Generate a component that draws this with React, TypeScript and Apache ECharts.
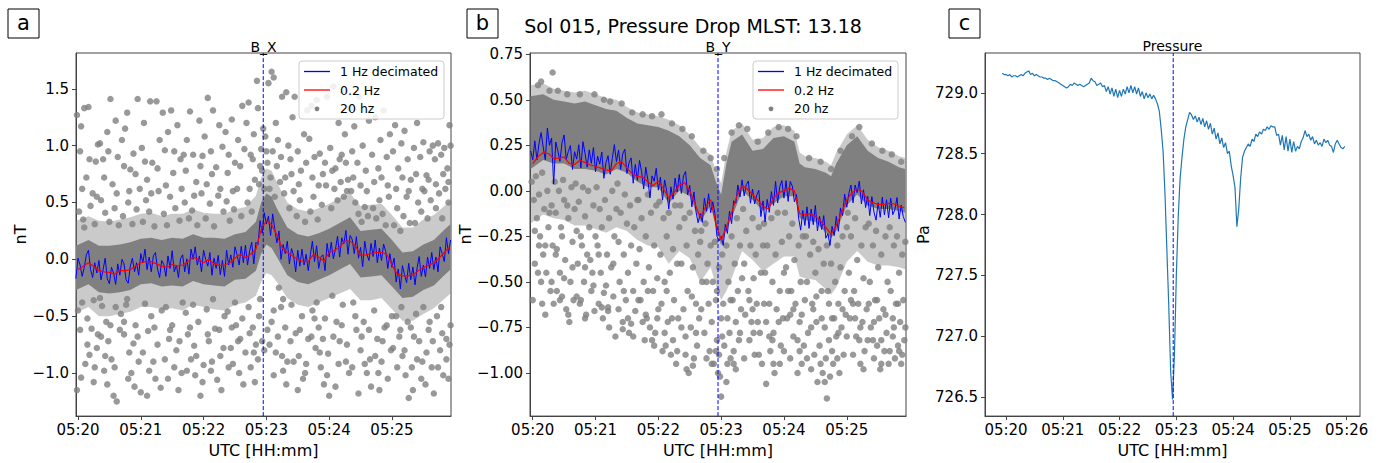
import React, { useEffect, useRef } from "react";
import * as echarts from "echarts";

const FONT = "DejaVu Sans";

// ---------- ticks / labels ----------
const X_TICKS_AB = [0, 60, 120, 180, 240, 300]; // seconds after 05:20
const X_TICKS_C = [0, 60, 120, 180, 240, 300, 360];
const Y_TICKS_A = [-1.0, -0.5, 0.0, 0.5, 1.0, 1.5];
const Y_TICKS_B = [-1.0, -0.75, -0.5, -0.25, 0.0, 0.25, 0.5, 0.75];
const Y_TICKS_C = [726.5, 727.0, 727.5, 728.0, 728.5, 729.0];
const Y_RANGE_A = [-1.379, 1.815];
const Y_RANGE_B = [-1.237, 0.757];
const Y_RANGE_C = [726.344, 729.327];
const EVENT_T_AB = 177; // dashed line (s after 05:20)
const EVENT_T_C = 176.7;

const SUPTITLE = "Sol 015, Pressure Drop MLST: 13.18";
const PANEL_TITLES = ["B_X", "B_Y", "Pressure"];
const LEGEND_NAMES = ["1 Hz decimated", "0.2 Hz", "20 hz"];

// ---------- panel a (B_X) ----------
const RED_A_T0 = 0, RED_A_DT = 5;
const RED_A = [
  -0.09, -0.06, -0.03, -0.06, -0.10, -0.11, -0.115, -0.13, -0.10, -0.10,
  -0.09, -0.06, -0.03, -0.02, -0.02, -0.04, -0.06, -0.07, -0.045, -0.06,
  -0.05, -0.02, 0.02, 0.00, -0.03, 0.00, -0.04, -0.055, -0.05, -0.03,
  0.01, 0.045, 0.015, 0.045, 0.09, 0.26, 0.34, 0.305, 0.215, 0.10,
  0.06, 0.03, 0.00, -0.02, -0.02, 0.044, 0.02, -0.014, 0.06, 0.078,
  0.11, 0.16, 0.16, 0.12, 0.035, 0.04, 0.05, 0.06, 0.06, 0.045,
  -0.05, -0.13, -0.145, -0.145, -0.137, -0.10, -0.07, -0.055, -0.03, 0.01,
  0.06, 0.11,
];
const BLUE_A_T0 = -2, BLUE_A_DT = 2;
const BLUE_A = [
  -0.17, 0.01, -0.05, -0.15, -0.07, 0.04, 0.08, -0.09, -0.16, -0.03,
  -0.12, -0.01, -0.18, -0.09, 0.01, -0.17, -0.215, -0.07, -0.12, -0.22,
  -0.04, -0.14, 0.00, -0.04, -0.18, -0.21, -0.06, 0.01, -0.11, -0.03,
  -0.14, 0.05, -0.03, 0.09, -0.09, 0.02, -0.11, 0.03, 0.06, -0.085,
  -0.16, -0.01, -0.045, -0.15, 0.03, -0.08, 0.075, -0.11, -0.05, -0.16,
  0.005, 0.04, -0.11, 0.005, -0.13, 0.09, 0.00, 0.11, -0.05, 0.03,
  -0.11, 0.08, 0.00, -0.06, 0.06, -0.14, 0.01, -0.08, 0.035, -0.135,
  -0.01, -0.15, 0.08, -0.05, 0.04, -0.07, 0.11, 0.04, -0.05, 0.115,
  -0.03, 0.125, -0.05, 0.075, 0.15, -0.04, 0.15, 0.13, 0.34, 0.23,
  0.41, 0.31, 0.38, 0.21, 0.40, 0.27, 0.145, 0.25, 0.00, 0.13,
  0.05, 0.16, -0.04, 0.095, 0.035, -0.11, 0.08, -0.06, 0.09, -0.05,
  0.045, -0.10, 0.04, 0.16, -0.02, 0.12, -0.08, 0.02, 0.04, -0.10,
  0.14, 0.02, 0.15, 0.005, 0.09, 0.205, 0.02, 0.19, 0.135, 0.255,
  0.045, 0.21, 0.175, 0.05, 0.20, 0.01, 0.105, -0.065, 0.16, 0.045,
  -0.01, 0.14, 0.025, 0.17, -0.03, 0.10, -0.01, 0.135, 0.07, -0.08,
  0.05, -0.07, 0.01, -0.20, -0.085, -0.26, -0.055, -0.135, -0.205, -0.035,
  -0.18, -0.067, -0.225, -0.075, 0.025, -0.15, -0.05, -0.155, 0.02, -0.08,
  0.06, -0.09, 0.02, -0.11, 0.11, 0.05, -0.02, 0.19, 0.05, 0.17,
];
const BAND_A_T = [
  -2, 10, 20, 30, 40, 50, 60, 70, 80, 90,
  100, 110, 120, 130, 140, 150, 160, 170, 175, 180,
  185, 190, 200, 210, 220, 230, 240, 250, 260, 270,
  280, 290, 300, 310, 320, 330, 340, 350, 356,
];
const BAND_A_LO = [
  -0.27, -0.22, -0.29, -0.30, -0.29, -0.27, -0.22, -0.21, -0.24, -0.23,
  -0.24, -0.19, -0.22, -0.23, -0.24, -0.18, -0.17, -0.10, 0.05, 0.13,
  0.10, 0.02, -0.14, -0.20, -0.22, -0.18, -0.14, -0.09, -0.04, -0.16,
  -0.15, -0.14, -0.24, -0.34, -0.33, -0.27, -0.23, -0.14, -0.09,
];
const BAND_A_HI = [
  0.12, 0.17, 0.12, 0.12, 0.13, 0.15, 0.18, 0.19, 0.17, 0.19,
  0.18, 0.22, 0.19, 0.19, 0.18, 0.22, 0.24, 0.33, 0.50, 0.58,
  0.55, 0.45, 0.28, 0.22, 0.20, 0.23, 0.27, 0.32, 0.37, 0.25,
  0.26, 0.27, 0.17, 0.06, 0.07, 0.13, 0.17, 0.26, 0.31,
];
const FRINGE_A_LO = [
  -0.47, -0.42, -0.50, -0.50, -0.48, -0.46, -0.42, -0.42, -0.44, -0.43,
  -0.45, -0.40, -0.42, -0.44, -0.45, -0.40, -0.38, -0.32, -0.20, -0.12,
  -0.14, -0.20, -0.34, -0.40, -0.42, -0.38, -0.34, -0.30, -0.26, -0.36,
  -0.36, -0.34, -0.44, -0.54, -0.54, -0.48, -0.43, -0.35, -0.30,
];
const FRINGE_A_HI = [
  0.34, 0.38, 0.34, 0.33, 0.35, 0.37, 0.40, 0.41, 0.38, 0.40,
  0.40, 0.44, 0.41, 0.40, 0.40, 0.44, 0.46, 0.56, 0.72, 0.80,
  0.78, 0.68, 0.50, 0.44, 0.42, 0.45, 0.49, 0.54, 0.58, 0.47,
  0.48, 0.49, 0.39, 0.28, 0.28, 0.35, 0.39, 0.47, 0.52,
];
const DOTS_A = [
  [-1,1.27],[3,1.17],[6,1.33],[10,1.34],[19,1.01],[2,0.95],[8,0.72],[14,0.58],[17,0.86],[1,0.42],[5,0.35],[12,0.47],[16,0.31],[0,-0.45],[4,-0.38],[9,-0.52],[13,-0.61],[18,-0.78],[7,-0.92],[11,-0.84],[15,-1.08],[-1,-1.15],[3,-1.04],[19,-0.66],[6,0.28],[15,-0.36],
  [21,1.02],[24,0.88],[28,1.12],[31,1.41],[33,0.66],[36,1.22],[38,0.9],[22,0.52],[26,0.41],[30,0.33],[35,0.45],[39,0.3],[23,-0.41],[27,-0.55],[29,-0.72],[32,-0.88],[34,-1.2],[37,-1.25],[25,-0.98],[40,-0.62],[21,-0.34],[36,-0.42],[28,-1.1],
  [42,1.05],[45,1.15],[47,1.29],[50,0.79],[53,0.93],[57,1.41],[59,0.62],[43,0.38],[48,0.5],[52,0.31],[56,0.44],[41,-0.48],[44,-0.66],[46,-0.4],[49,-0.82],[51,-1.0],[54,-1.12],[58,-0.9],[55,-0.58],[60,-1.17],[47,-0.35],[53,-0.74],
  [61,0.98],[63,1.2],[66,0.7],[69,1.39],[71,0.85],[75,1.39],[78,1.05],[62,0.33],[65,0.52],[68,0.42],[73,0.29],[77,0.6],[64,-0.39],[67,-0.63],[70,-0.5],[72,-0.9],[74,-1.05],[76,-0.75],[79,-1.13],[66,-1.2],[80,-0.45],
  [81,1.29],[83,0.96],[86,1.12],[89,1.31],[91,0.76],[95,1.18],[98,0.88],[82,0.4],[85,0.3],[88,0.55],[93,0.45],[97,0.34],[84,-0.42],[87,-0.7],[90,-0.58],[92,-0.95],[94,-0.8],[96,-1.15],[99,-1.0],[100,-0.38],[86,-1.05],
  [101,0.92],[104,1.05],[107,1.3],[110,0.92],[113,0.68],[116,1.22],[119,0.91],[102,0.5],[106,0.36],[109,0.43],[114,0.3],[118,0.58],[103,-0.47],[105,-0.66],[108,-0.88],[111,-0.76],[112,-1.02],[115,-0.55],[117,-1.2],[120,-0.93],[110,-0.4],
  [121,1.08],[124,1.42],[127,0.95],[129,1.31],[132,0.81],[135,1.18],[138,0.99],[122,0.36],[126,0.49],[130,0.29],[134,0.56],[139,0.42],[123,-0.44],[125,-0.72],[128,-0.9],[131,-0.61],[133,-1.06],[136,-0.85],[137,-1.15],[140,-0.5],[129,-0.35],
  [141,1.12],[144,0.92],[147,1.23],[150,0.85],[153,1.05],[157,1.35],[159,0.97],[142,0.51],[145,0.34],[149,0.44],[152,0.62],[156,0.38],[143,-0.46],[146,-0.78],[148,-0.92],[151,-0.58],[154,-1.0],[155,-0.7],[158,-1.1],[160,-0.82],[150,-0.38],
  [161,1.2],[163,1.38],[165,0.92],[168,1.1],[171,1.57],[172,1.33],[175,0.97],[177,1.15],[179,1.08],[162,0.5],[164,0.62],[166,0.42],[169,0.7],[173,0.66],[176,0.78],[178,0.62],[163,-0.42],[167,-0.6],[170,-0.75],[174,-0.35],[176,-0.72],[178,-0.8],[165,-0.95],[169,-1.08],[172,-0.88],
  [182,1.55],[185,1.65],[187,1.6],[189,1.2],[191,1.05],[195,1.43],[199,1.47],[181,0.85],[184,0.72],[186,0.95],[190,0.82],[193,0.68],[197,0.58],[183,0.62],[188,0.55],[192,-0.25],[194,-0.42],[196,-0.35],[181,-0.62],[185,-0.55],[189,-0.82],[198,-0.6],[200,-0.9],[187,-1.02],[196,-0.98],
  [201,1.0],[203,0.88],[205,1.25],[207,1.43],[210,0.95],[213,0.78],[216,1.1],[219,1.31],[202,0.45],[206,0.6],[209,0.38],[212,0.52],[217,0.33],[204,-0.4],[208,-0.65],[211,-0.85],[214,-0.5],[215,-1.05],[218,-0.92],[220,-0.7],[210,-1.15],
  [221,1.06],[223,1.35],[226,0.9],[228,1.4],[231,0.93],[234,0.75],[238,1.43],[222,0.42],[225,0.55],[229,0.35],[233,0.48],[237,0.65],[224,-0.45],[227,-0.78],[230,-0.6],[232,-0.95],[235,-1.1],[236,-0.52],[239,-0.83],[240,-1.2],[228,-0.38],
  [241,0.98],[244,1.52],[246,0.8],[249,1.2],[252,0.92],[255,1.1],[258,0.7],[260,1.33],[242,0.45],[245,0.62],[248,0.52],[251,0.68],[254,0.55],[257,0.6],[243,-0.32],[247,-0.55],[250,-0.72],[253,-0.4],[256,-0.9],[259,-1.0],[246,-1.12],
  [262,0.95],[264,1.17],[267,0.85],[269,1.43],[272,1.0],[275,0.78],[278,1.22],[261,0.6],[265,0.5],[268,0.4],[271,0.33],[274,0.46],[277,0.38],[263,-0.38],[266,-0.62],[270,-0.8],[273,-0.55],[276,-1.0],[279,-0.88],[280,-1.12],[268,-1.18],
  [281,0.92],[284,1.25],[287,0.8],[289,1.05],[292,1.31],[295,0.9],[298,1.1],[282,0.45],[285,0.36],[288,0.52],[291,0.4],[294,0.3],[297,0.55],[283,-0.45],[286,-0.7],[290,-0.9],[293,-0.6],[296,-1.05],[299,-0.8],[300,-0.5],[288,-1.15],
  [301,0.95],[303,1.18],[306,0.8],[309,1.02],[312,1.13],[315,0.88],[318,0.7],[302,0.3],[305,0.45],[308,0.25],[311,0.38],[314,0.55],[317,0.32],[304,-0.5],[307,-0.68],[310,-0.85],[313,-1.02],[316,-1.22],[319,-0.95],[320,-1.15],[309,-0.42],[318,-0.6],
  [321,0.98],[324,1.2],[327,0.9],[330,1.03],[333,0.74],[336,0.95],[339,1.0],[322,0.32],[325,0.5],[328,0.42],[331,0.6],[334,0.36],[337,0.52],[323,-0.48],[326,-0.72],[329,-0.9],[332,-1.1],[335,-0.62],[338,-0.95],[340,-1.18],[330,-0.42],
  [341,0.88],[344,1.02],[347,0.92],[350,0.98],[353,0.8],[355,1.18],[356,1.0],[342,0.45],[345,0.58],[348,0.36],[351,0.62],[354,0.5],[343,-0.5],[346,-0.8],[349,-1.02],[352,-0.7],[354,-1.05],[356,-0.58],[347,-0.42],
];
const DOTS_A_EXTRA = [
  [2,-0.62],[9,-0.75],[16,-0.95],[22,-0.68],[26,-0.85],[31,-0.58],[35,-0.95],[44,-0.55],[48,-1.05],[57,-0.68],[62,-0.82],[68,-0.98],[73,-0.6],[83,-0.88],[88,-0.62],[97,-0.72],[104,-0.98],[107,-0.6],[113,-0.85],[119,-1.08],[124,-0.66],[127,-0.98],[135,-0.62],[139,-0.78],[144,-0.95],[147,-0.6],[153,-0.72],[157,-0.52],[164,-0.65],[168,-0.82],[173,-0.5],[183,-0.75],[187,-0.45],[191,-0.68],[195,-0.85],[199,-1.1],[203,-0.72],[206,-0.9],[212,-0.62],[217,-1.0],[223,-0.68],[226,-0.52],[231,-0.82],[234,-0.7],[238,-1.02],[244,-0.68],[249,-0.92],[252,-0.58],[257,-0.75],[262,-0.95],[265,-0.5],[271,-0.68],[274,-0.92],[278,-0.62],[284,-0.85],[287,-1.0],[291,-0.72],[295,-0.58],[301,-0.78],[305,-0.95],[308,-0.62],[312,-0.8],[315,-0.55],[321,-0.68],[324,-0.88],[328,-1.05],[333,-0.82],[336,-0.55],[339,-0.72],[344,-0.95],[348,-0.65],[352,-0.88],[355,-0.75],
  [4,0.62],[11,0.88],[18,0.55],[25,0.72],[29,0.95],[37,0.58],[44,0.82],[49,0.6],[55,0.75],[64,0.86],[70,0.58],[76,0.8],[84,0.65],[92,0.95],[99,0.62],[103,0.78],[111,0.56],[117,0.82],[123,0.66],[128,0.75],[136,0.62],[143,0.76],[148,0.6],[155,0.82],[167,0.88],[174,0.82],[180,0.95],[194,0.9],[198,0.72],[204,0.75],[211,0.66],[218,0.85],[224,0.72],[230,0.65],[236,0.85],[243,0.78],[250,0.88],[256,0.85],[263,0.72],[270,0.65],[276,0.6],[283,0.68],[290,0.72],[296,0.65],[304,0.62],[310,0.72],[316,0.6],[323,0.75],[329,0.62],[335,0.7],[342,0.66],[349,0.75],[354,0.68],
];

// ---------- panel b (B_Y) ----------
const RED_B_T0 = 0, RED_B_DT = 5;
const RED_B = [
  0.15, 0.187, 0.21, 0.205, 0.177, 0.18, 0.187, 0.15, 0.145, 0.168,
  0.155, 0.142, 0.135, 0.125, 0.115, 0.11, 0.15, 0.16, 0.125, 0.095,
  0.078, 0.075, 0.05, 0.028, 0.054, 0.01, -0.04, -0.01, 0.03, 0.045,
  0.0, -0.07, -0.145, -0.09, -0.05, -0.18, -0.27, -0.2, -0.12, -0.03,
  0.03, 0.01, -0.02, -0.05, -0.085, -0.10, -0.04, -0.01, 0.0, 0.015,
  0.0, -0.125, -0.13, -0.125, -0.14, -0.165, -0.2, -0.238, -0.19, -0.12,
  -0.05, -0.01, 0.01, -0.005, -0.05, -0.065, -0.075, -0.075, -0.068, -0.072,
  -0.085, -0.093,
];
const BLUE_B_T0 = -2, BLUE_B_DT = 2;
const BLUE_B = [
  0.22, 0.17, 0.275, 0.17, 0.26, 0.32, 0.24, 0.17, 0.345, 0.25,
  0.29, 0.037, 0.268, 0.22, 0.162, 0.265, 0.307, 0.172, 0.217, 0.249,
  0.117, 0.215, 0.174, 0.253, 0.126, 0.27, 0.205, 0.13, 0.225, 0.151,
  0.238, 0.105, 0.191, 0.147, 0.213, 0.069, 0.155, 0.193, 0.091, 0.178,
  0.254, 0.16, 0.224, 0.118, 0.203, 0.229, 0.095, 0.153, 0.181, 0.042,
  0.145, 0.058, 0.167, 0.106, 0.01, 0.13, 0.06, -0.039, 0.082, 0.053,
  0.124, 0.004, 0.076, -0.051, 0.06, 0.0, -0.10, 0.022, -0.046, 0.07,
  -0.006, 0.09, -0.014, 0.082, 0.106, -0.022, 0.03, -0.088, -0.006, -0.115,
  -0.175, -0.125, -0.173, -0.04, -0.112, -0.016, -0.12, -0.06, -0.124, -0.25,
  -0.275, -0.25, -0.30, -0.184, -0.234, -0.112, -0.18, -0.054, -0.068, 0.032,
  -0.034, 0.06, -0.028, 0.034, 0.054, -0.068, 0.01, -0.072, -0.024, 0.003,
  -0.141, -0.055, -0.171, -0.047, -0.118, -0.004, -0.08, 0.052, -0.066, 0.022,
  0.056, -0.04, 0.056, -0.058, 0.052, 0.026, -0.06, -0.02, -0.15, -0.216,
  -0.108, -0.19, -0.088, -0.206, -0.10, -0.186, -0.08, -0.22, -0.14, -0.212,
  -0.136, -0.26, -0.235, -0.30, -0.195, -0.246, -0.14, -0.222, -0.094, -0.136,
  -0.018, -0.09, -0.014, 0.032, -0.066, 0.032, -0.01, 0.054, -0.072, 0.006,
  -0.092, -0.03, -0.136, -0.032, -0.117, -0.161, -0.065, -0.145, -0.035, -0.132,
  -0.049, -0.148, -0.04, -0.131, -0.103, -0.037, -0.155, -0.078, -0.141, -0.173,
];
const BAND_B_T = [
  -2, 10, 20, 30, 40, 50, 60, 70, 80, 90,
  100, 110, 120, 130, 140, 150, 160, 170, 175,
  180, 185, 190, 200, 210, 220, 230, 240, 250, 255,
  260, 270, 280, 285, 290, 300, 310, 320, 330, 340,
  350, 356,
];
const BAND_B_LO = [
  0.12, 0.17, 0.15, 0.15, 0.12, 0.12, 0.11, 0.09, 0.12, 0.10,
  0.05, 0.02, 0.02, -0.07, 0.0, -0.03, -0.17, -0.08, -0.2,
  -0.30, -0.22, -0.15, 0.0, -0.05, -0.11, -0.07, -0.03, -0.03, -0.15,
  -0.16, -0.17, -0.23, -0.26, -0.22, -0.08, -0.02, -0.08, -0.10, -0.10,
  -0.11, -0.12,
];
const BAND_B_HI = [
  0.52, 0.53, 0.50, 0.49, 0.48, 0.49, 0.47, 0.45, 0.44, 0.40,
  0.37, 0.36, 0.35, 0.33, 0.30, 0.25, 0.18, 0.14, 0.05,
  -0.02, 0.15, 0.27, 0.31, 0.22, 0.23, 0.29, 0.30, 0.27, 0.15,
  0.13, 0.12, 0.10, 0.08, 0.15, 0.25, 0.30, 0.22, 0.18, 0.16,
  0.13, 0.12,
];
const FRINGE_B_LO = [
  -0.18, -0.13, -0.15, -0.16, -0.19, -0.19, -0.21, -0.23, -0.20, -0.22,
  -0.27, -0.30, -0.31, -0.40, -0.33, -0.37, -0.50, -0.42, -0.52,
  -0.60, -0.55, -0.48, -0.33, -0.38, -0.44, -0.40, -0.36, -0.36, -0.47,
  -0.48, -0.49, -0.54, -0.57, -0.53, -0.39, -0.33, -0.39, -0.41, -0.41,
  -0.42, -0.43,
];
const FRINGE_B_HI = [
  0.58, 0.59, 0.56, 0.55, 0.54, 0.55, 0.53, 0.51, 0.50, 0.46,
  0.43, 0.42, 0.41, 0.39, 0.36, 0.31, 0.24, 0.20, 0.11,
  0.04, 0.21, 0.33, 0.37, 0.28, 0.29, 0.35, 0.36, 0.33, 0.21,
  0.19, 0.18, 0.16, 0.14, 0.21, 0.31, 0.36, 0.28, 0.24, 0.22,
  0.19, 0.18,
];
const DOTS_B = [
  [5,0.58],[19,0.65],[8,0.6],[16,0.55],[-1,0.05],[1,-0.05],[3,0.08],[4,-0.15],[6,-0.02],[7,-0.25],[9,0.1],[10,-0.35],[11,-0.1],[13,-0.45],[14,0.0],[15,-0.2],[17,-0.55],[18,-0.08],[19,-0.3],[20,-0.62],[2,-0.4],[0,-0.6],[8,-0.5],[12,-0.68],[16,-0.12],[6,-0.3],
  [24,0.55],[33,0.53],[21,0.05],[22,-0.12],[23,-0.32],[25,0.0],[26,-0.45],[27,-0.2],[28,-0.58],[29,0.06],[30,-0.05],[31,-0.38],[32,-0.65],[34,-0.15],[35,-0.72],[36,-0.5],[37,0.02],[38,-0.28],[39,-0.6],[40,-0.1],[23,-0.55],[28,-0.25],[33,-0.08],
  [45,0.53],[59,0.53],[41,0.04],[42,-0.22],[43,-0.4],[44,-0.06],[46,-0.6],[47,-0.3],[48,0.02],[49,-0.5],[50,-0.14],[51,-0.68],[52,-0.35],[53,0.0],[54,-0.2],[56,-0.55],[57,-0.45],[58,-0.08],[59,-0.66],[60,-0.25],[45,-0.62],[50,-0.42],
  [68,0.5],[74,0.49],[61,0.02],[62,-0.3],[63,-0.62],[64,-0.1],[65,-0.45],[66,-0.2],[67,-0.7],[69,-0.05],[70,-0.52],[71,-0.35],[72,-0.64],[73,-0.15],[75,-0.42],[76,0.0],[77,-0.58],[78,-0.25],[79,-0.8],[80,-0.1],[66,-0.64],[72,-0.66],
  [85,0.48],[95,0.43],[81,0.04],[82,-0.28],[83,-0.5],[84,-0.12],[86,-0.72],[87,-0.35],[88,-0.02],[89,-0.6],[90,-0.18],[91,-0.45],[92,-0.78],[93,-0.08],[94,-0.3],[96,-0.55],[97,-0.2],[98,-0.66],[99,-0.4],[100,-0.05],[86,-0.76],[94,-0.73],
  [105,0.42],[114,0.41],[101,-0.05],[102,-0.32],[103,-0.6],[104,-0.15],[106,-0.5],[107,-0.82],[108,-0.25],[109,-0.7],[110,-0.02],[111,-0.42],[112,-0.75],[113,-0.12],[115,-0.55],[116,-0.3],[117,-0.78],[118,-0.08],[119,-0.48],[120,-0.65],[108,-0.68],[116,-0.85],
  [123,0.42],[133,0.37],[121,-0.06],[122,-0.35],[123,-0.62],[125,-0.15],[126,-0.5],[127,-0.85],[128,-0.25],[129,-0.72],[130,-0.12],[131,-0.45],[132,-0.9],[134,-0.32],[135,-0.6],[136,-0.08],[137,-0.95],[138,-0.4],[139,-0.7],[140,-0.2],[126,-0.78],[134,-0.82],
  [143,0.34],[152,0.3],[141,-0.08],[142,-0.4],[144,-0.65],[145,-0.15],[146,-0.9],[147,-0.3],[148,-0.55],[149,-1.0],[150,-0.12],[151,-0.75],[153,-0.42],[154,-0.92],[155,-0.22],[156,-0.62],[157,-0.85],[158,-0.35],[159,-0.7],[160,-0.28],[146,-0.8],[153,-0.96],
  [163,0.22],[170,0.18],[176,0.12],[161,-0.22],[162,-0.5],[164,-0.78],[165,-0.18],[166,-0.92],[167,-0.4],[168,-0.62],[169,-0.88],[170,-0.3],[171,-0.72],[172,-0.5],[173,-0.95],[174,-0.28],[175,-0.6],[176,-0.82],[177,-1.0],[178,-0.42],[179,-1.02],[180,-0.7],[175,-0.88],[178,-0.9],
  [183,0.18],[190,0.32],[197,0.36],[181,-0.35],[182,-0.62],[183,-0.85],[180,-1.13],[185,-0.3],[186,-0.95],[187,-0.5],[188,-0.78],[189,-0.92],[190,-0.25],[191,-0.6],[192,-0.88],[193,-0.4],[194,-0.72],[195,-0.15],[196,-0.55],[197,-0.82],[198,-0.3],[199,-0.65],[200,-0.48],[186,-0.7],[192,-0.95],
  [205,0.34],[215,0.27],[201,-0.1],[202,-0.4],[203,-0.68],[204,-0.22],[206,-0.55],[207,-0.82],[208,-0.3],[209,-0.72],[210,-0.15],[211,-0.48],[212,-0.9],[213,-0.35],[214,-0.62],[216,-0.2],[217,-0.78],[218,-0.45],[219,-0.95],[220,-0.3],[210,-0.65],[215,-0.72],
  [225,0.32],[235,0.35],[221,-0.18],[222,-0.45],[223,-1.06],[224,-0.3],[226,-0.62],[227,-0.88],[228,-0.15],[229,-0.5],[230,-0.78],[231,-1.0],[232,-0.35],[233,-0.65],[234,-0.12],[236,-0.55],[237,-0.85],[238,-0.28],[239,-0.7],[240,-0.45],[229,-0.82],[236,-0.95],[223,-0.72],
  [244,0.34],[252,0.3],[241,-0.12],[242,-0.42],[243,-0.7],[245,-0.25],[246,-0.92],[247,-0.55],[248,-0.18],[249,-0.8],[250,-0.38],[251,-0.62],[253,-1.0],[254,-0.3],[255,-0.72],[256,-0.5],[257,-0.95],[258,-0.25],[259,-0.85],[260,-0.6],[246,-0.68],[255,-0.88],
  [264,0.18],[275,0.16],[261,-0.25],[262,-0.5],[263,-0.78],[265,-0.35],[266,-0.98],[267,-0.62],[268,-0.28],[269,-0.9],[270,-0.45],[271,-0.72],[272,-1.05],[273,-0.32],[274,-0.85],[276,-0.55],[277,-1.0],[278,-0.4],[279,-0.75],[280,-0.92],[268,-0.65],[276,-0.7],
  [285,0.12],[294,0.22],[281,-0.3],[282,-0.55],[283,-0.82],[284,-1.02],[285,-0.4],[286,-0.7],[287,-0.95],[281,-1.14],[289,-0.5],[290,-0.8],[291,-0.3],[292,-0.62],[293,-1.0],[294,-0.42],[295,-0.75],[296,-0.25],[297,-0.9],[298,-0.55],[299,-0.68],[300,-0.2],[286,-0.88],[292,-0.78],
  [305,0.3],[312,0.35],[301,-0.12],[302,-0.45],[303,-0.7],[304,-0.25],[306,-0.9],[307,-0.55],[308,-0.15],[309,-0.8],[310,-0.38],[311,-0.62],[313,-0.95],[314,-0.3],[315,-0.72],[316,-0.48],[317,-0.88],[318,-0.2],[319,-0.65],[320,-0.82],[306,-0.62],[313,-0.75],
  [324,0.26],[334,0.22],[321,-0.18],[322,-0.5],[323,-0.75],[325,-0.3],[326,-0.92],[327,-0.6],[328,-0.22],[329,-0.85],[330,-0.42],[331,-0.7],[332,-0.98],[333,-0.35],[335,-0.65],[336,-0.88],[337,-0.25],[338,-0.78],[339,-0.5],[340,-0.95],[326,-0.72],[333,-0.82],
  [343,0.2],[352,0.16],[341,-0.2],[342,-0.55],[344,-0.8],[345,-0.3],[346,-0.92],[347,-0.62],[348,-0.25],[349,-0.85],[350,-0.45],[351,-0.72],[352,-0.95],[353,-0.35],[354,-0.6],[355,-0.82],[356,-0.28],[344,-0.7],[350,-0.88],
];
const DOTS_B_EXTRA = [
  [2,-0.22],[5,-0.45],[9,-0.62],[12,-0.3],[18,-0.5],[22,-0.35],[26,-0.6],[30,-0.48],[34,-0.68],[38,-0.42],[42,-0.58],[46,-0.25],[50,-0.7],[55,-0.38],[58,-0.52],[63,-0.35],[68,-0.56],[73,-0.75],[77,-0.4],[82,-0.65],[87,-0.55],[91,-0.7],[96,-0.8],[101,-0.6],[105,-0.72],[110,-0.55],[114,-0.82],[119,-0.7],[124,-0.88],[128,-0.55],[133,-0.7],[138,-0.88],[142,-0.75],[147,-0.98],[152,-0.58],[156,-0.78],[161,-0.65],[166,-0.5],[171,-0.95],[176,-0.55],[181,-0.8],[185,-1.05],[189,-0.6],[194,-0.98],[198,-0.78],[202,-0.92],[207,-0.6],[211,-0.78],[216,-0.9],[221,-0.62],[226,-0.8],[230,-0.95],[235,-0.72],[240,-0.88],[244,-0.55],[249,-0.65],[253,-0.82],[257,-0.68],[262,-0.92],[266,-0.75],[271,-0.58],[275,-0.95],[279,-1.05],[283,-0.62],[288,-0.7],[291,-0.92],[296,-0.65],[300,-0.8],[304,-0.6],[308,-0.7],[312,-0.82],[316,-0.98],[321,-0.62],[325,-0.82],[329,-0.6],[333,-0.95],[337,-0.68],[341,-0.88],[345,-0.75],[349,-0.62],[353,-0.9],[356,-0.75],
];

// ---------- panel c (pressure, Pa) ----------
const P_T0 = -4, P_DT = 2;
const PRESSURE = [
  729.16, 729.15, 729.15, 729.14, 729.15, 729.13, 729.14, 729.14, 729.13, 729.14,
  729.15, 729.14, 729.16, 729.17, 729.18, 729.15, 729.16, 729.14, 729.15, 729.14,
  729.13, 729.13, 729.12, 729.12, 729.11, 729.12, 729.11, 729.10, 729.10, 729.09,
  729.08, 729.07, 729.06, 729.05, 729.04, 729.05, 729.07, 729.06, 729.08, 729.07,
  729.06, 729.07, 729.06, 729.05, 729.06, 729.07, 729.08, 729.12, 729.10, 729.09,
  729.06, 729.07, 729.08, 729.05, 729.06, 729.01, 729.05, 728.99, 729.04, 728.97,
  729.03, 728.96, 729.02, 728.97, 729.03, 728.99, 729.05, 729.00, 729.06, 729.00,
  729.05, 728.99, 729.04, 728.97, 729.01, 728.95, 729.00, 728.96, 728.99, 728.95,
  728.98, 728.95, 728.91, 728.85, 728.70, 728.52, 728.17, 727.71, 727.25, 726.71,
  726.48, 726.85, 727.50, 727.98, 728.30, 728.47, 728.62, 728.72, 728.78, 728.84,
  728.82, 728.78, 728.81, 728.76, 728.80, 728.74, 728.79, 728.72, 728.77, 728.70,
  728.75, 728.66, 728.71, 728.62, 728.67, 728.58, 728.63, 728.55, 728.59, 728.50,
  728.52, 728.40, 728.32, 728.22, 727.90, 728.05, 728.30, 728.47, 728.52, 728.55,
  728.58, 728.56, 728.62, 728.60, 728.66, 728.64, 728.68, 728.66, 728.70, 728.69,
  728.72, 728.70, 728.73, 728.72, 728.72, 728.65, 728.66, 728.57, 728.65, 728.53,
  728.64, 728.52, 728.62, 728.51, 728.60, 728.52, 728.56, 728.54, 728.60, 728.63,
  728.69, 728.64, 728.66, 728.61, 728.64, 728.58, 728.61, 728.57, 728.59, 728.56,
  728.62, 728.59, 728.61, 728.57, 728.56, 728.51, 728.58, 728.61, 728.58, 728.55,
  728.54, 728.56,
];

// ---------- helpers ----------
const series = (vals: number[], t0: number, dt: number) =>
  vals.map((v, i) => [t0 + i * dt, v]);
const fmtTime = (v: number) => "05:" + String(20 + Math.round(v / 60)).padStart(2, "0");
const fmtNum = (d: number) => (v: number) =>
  (v < -1e-9 ? "\u2212" : "") + Math.abs(v).toFixed(d);

const AX = "#444";
const xAxisCfg = (gridIndex: number, min: number, max: number, ticks: number[]) => ({
  type: "value", gridIndex, min, max,
  axisLine: { show: true, onZero: false, lineStyle: { color: AX } },
  axisTick: { show: true, length: 4, customValues: ticks, lineStyle: { color: AX } },
  axisLabel: { customValues: ticks, formatter: fmtTime, fontSize: 15, color: "#000", fontFamily: FONT, margin: 6 },
  splitLine: { show: false },
  name: "UTC [HH:mm]", nameLocation: "middle", nameGap: 20,
  nameTextStyle: { fontSize: 16, color: "#000", fontFamily: FONT },
});
const yAxisCfg = (gridIndex: number, range: number[], ticks: number[], dec: number, name: string, gap: number) => ({
  type: "value", gridIndex, min: range[0], max: range[1],
  axisLine: { show: true, onZero: false, lineStyle: { color: AX } },
  axisTick: { show: true, length: 4, customValues: ticks, lineStyle: { color: AX } },
  axisLabel: { customValues: ticks, formatter: fmtNum(dec), fontSize: 15, color: "#000", fontFamily: FONT, margin: 7 },
  splitLine: { show: false },
  name, nameLocation: "middle", nameGap: gap, nameRotate: 90,
  nameTextStyle: { fontSize: 16, color: "#000", fontFamily: FONT },
});

// filled band between two edges, drawn through the axes' coordinate system
const bandSeries = (idx: number, T: number[], LO: number[], HI: number[], opacity: number) => ({
  type: "custom", xAxisIndex: idx, yAxisIndex: idx, silent: true, clip: true,
  data: T.map((t, i) => [t, LO[i], HI[i]]),
  encode: { x: 0, y: [1, 2] },
  renderItem: (params: any, api: any) => {
    if (params.dataIndex !== 0) return null;
    const pts: number[][] = [];
    for (let i = 0; i < T.length; i++) pts.push(api.coord([T[i], HI[i]]));
    for (let i = T.length - 1; i >= 0; i--) pts.push(api.coord([T[i], LO[i]]));
    return {
      type: "polygon",
      shape: { points: pts },
      style: { fill: "#808080", opacity, stroke: "none" },
    };
  },
});

const eventSeries = (idx: number, t: number, range: number[]) => ({
  type: "line", xAxisIndex: idx, yAxisIndex: idx, silent: true,
  data: [[t, range[0]], [t, range[1]]], symbol: "none",
  lineStyle: { color: "#0000ff", type: [4, 2], width: 1 },
  z: 5,
});

const magPanel = (idx: number, T: number[], LO: number[], HI: number[], FLO: number[], FHI: number[],
  dots: number[][], blue: number[][], red: number[][], ev: number, range: number[]) => [
  bandSeries(idx, T, FLO, FHI, 0.42),
  bandSeries(idx, T, LO, HI, 1),
  {
    name: LEGEND_NAMES[2], type: "scatter", xAxisIndex: idx, yAxisIndex: idx, data: dots,
    symbolSize: 6.5, itemStyle: { color: "#808080" }, silent: true,
  },
  {
    name: LEGEND_NAMES[0], type: "line", xAxisIndex: idx, yAxisIndex: idx, data: blue,
    symbol: "none", lineStyle: { color: "#0000ff", width: 1 }, silent: true,
  },
  {
    name: LEGEND_NAMES[1], type: "line", xAxisIndex: idx, yAxisIndex: idx, data: red,
    symbol: "none", lineStyle: { color: "#ff0000", width: 1.2 }, silent: true,
  },
  eventSeries(idx, ev, range),
];

const txt = (text: string, x: number, y: number, size: number, align = "center") => ({
  type: "text", z: 100,
  style: {
    text, x, y, fontSize: size, fontFamily: FONT, fill: "#000",
    align, textAlign: align, verticalAlign: "middle", textVerticalAlign: "middle",
  },
});

const legendGraphic = (left: number) => [
  {
    type: "rect", z: 99, shape: { x: left, y: 61, width: 145, height: 58, r: 3 },
    style: { fill: "rgba(255,255,255,0.85)", stroke: "#cccccc", lineWidth: 1 },
  },
  { type: "line", z: 100, shape: { x1: left + 5, y1: 71.5, x2: left + 31, y2: 71.5 }, style: { stroke: "#0000ff", lineWidth: 1.3 } },
  { type: "line", z: 100, shape: { x1: left + 5, y1: 90, x2: left + 31, y2: 90 }, style: { stroke: "#ff0000", lineWidth: 1.3 } },
  { type: "circle", z: 100, shape: { cx: left + 18, cy: 108.8, r: 2.4 }, style: { fill: "#808080" } },
  txt(LEGEND_NAMES[0], left + 41, 71.5, 12.5, "left"),
  txt(LEGEND_NAMES[1], left + 41, 90, 12.5, "left"),
  txt(LEGEND_NAMES[2], left + 41, 108.8, 12.5, "left"),
];

const letterBox = (letter: string, x: number) => [
  { type: "rect", z: 100, shape: { x, y: 9, width: 31, height: 29 }, style: { fill: "#fff", stroke: "#000", lineWidth: 1 } },
  txt(letter, x + 15.5, 22.5, 21),
];

export default function App() {
  const ref = useRef<HTMLDivElement>(null);
  useEffect(() => {
    if (!ref.current) return;
    const chart = echarts.init(ref.current, null, { renderer: "svg" });
    const gridBase = { top: 53, height: 368, show: true, borderColor: AX, borderWidth: 1, containLabel: false };
    chart.setOption({
      animation: false,
      backgroundColor: "#ffffff",
      grid: [
        { ...gridBase, left: 76, width: 375 },
        { ...gridBase, left: 530, width: 376 },
        { ...gridBase, left: 985, width: 375 },
      ],
      xAxis: [
        xAxisCfg(0, -1.9, 356.4, X_TICKS_AB),
        xAxisCfg(1, -2.6, 356.6, X_TICKS_AB),
        xAxisCfg(2, -22.2, 374.1, X_TICKS_C),
      ],
      yAxis: [
        yAxisCfg(0, Y_RANGE_A, Y_TICKS_A, 1, "nT", 31),
        yAxisCfg(1, Y_RANGE_B, Y_TICKS_B, 2, "nT", 38),
        yAxisCfg(2, Y_RANGE_C, Y_TICKS_C, 1, "Pa", 31),
      ],
      series: [
        ...magPanel(0, BAND_A_T, BAND_A_LO, BAND_A_HI, FRINGE_A_LO, FRINGE_A_HI, [...DOTS_A, ...DOTS_A_EXTRA],
          series(BLUE_A, BLUE_A_T0, BLUE_A_DT), series(RED_A, RED_A_T0, RED_A_DT), EVENT_T_AB, Y_RANGE_A),
        ...magPanel(1, BAND_B_T, BAND_B_LO, BAND_B_HI, FRINGE_B_LO, FRINGE_B_HI, [...DOTS_B, ...DOTS_B_EXTRA],
          series(BLUE_B, BLUE_B_T0, BLUE_B_DT), series(RED_B, RED_B_T0, RED_B_DT), EVENT_T_AB, Y_RANGE_B),
        {
          name: PANEL_TITLES[2], type: "line", xAxisIndex: 2, yAxisIndex: 2,
          data: series(PRESSURE, P_T0, P_DT), symbol: "none", silent: true,
          lineStyle: { color: "#1f77b4", width: 1.2 },
        },
        eventSeries(2, EVENT_T_C, Y_RANGE_C),
      ],
      graphic: [
        ...letterBox("a", 8),
        ...letterBox("b", 467),
        ...letterBox("c", 949),
        txt(SUPTITLE, 693, 26, 19),
        txt(PANEL_TITLES[0], 263.5, 46.5, 14),
        txt(PANEL_TITLES[1], 718, 46.5, 14),
        txt(PANEL_TITLES[2], 1172.5, 46, 14),
        ...legendGraphic(299),
        ...legendGraphic(753),
      ],
    });
    return () => chart.dispose();
  }, []);
  return (
    <div
      ref={ref}
      style={{ position: "absolute", left: 0, top: 0, width: 1386, height: 463, background: "#fff" }}
    />
  );
}
